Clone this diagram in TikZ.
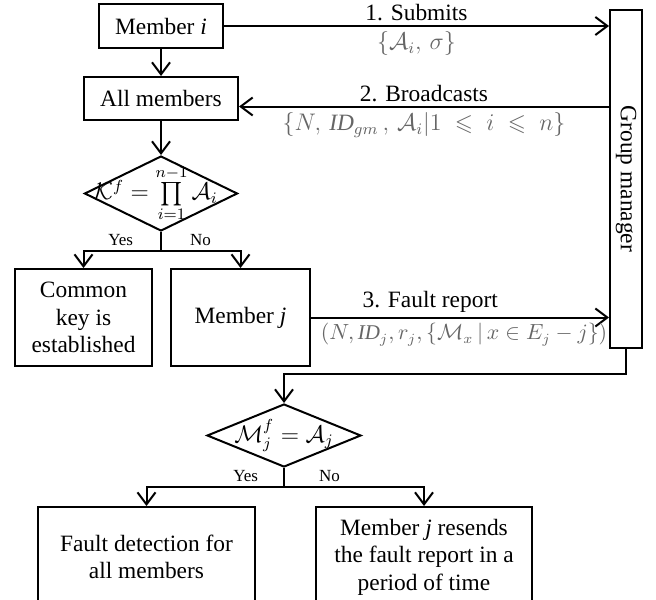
\documentclass[tikz,border=0pt]{standalone}
\usepackage{amsmath,amssymb}
\usepackage{fontspec}
\setmainfont{Liberation Serif}
\usetikzlibrary{arrows.meta,positioning,shapes.geometric}
\newcommand{\inbox}[1]{\makebox[0pt]{#1}}

\begin{document}
\begin{tikzpicture}[x=0.5pt,y=-0.5pt,line width=1pt,
  font=\fontsize{11.7}{13.8}\selectfont, >={Straight Barb[length=6pt,width=9pt]},
  box/.style={draw,align=center,inner sep=2pt},
  test/.style={draw,diamond,inner sep=0pt},
  msg/.style={text=black!60,inner sep=2.5pt},
  yn/.style={font=\fontsize{8.5}{10}\selectfont,inner sep=1pt}]
  \useasboundingbox (0,0) rectangle (656,599);
  % members and the key check
  \node[box,minimum width=62pt,minimum height=22pt] (mi) at (161,26) {Member \textit{i}};
  \node[box,minimum width=77pt,minimum height=21.5pt,below=13.5pt of mi] (am) {All members};
  \node[test,minimum width=76.5pt,minimum height=37.5pt,below=17pt of am] (d1)
    {\inbox{\hspace{-5pt}$\mathcal{K}^f=\prod\limits_{i=1}^{n-1}\mathcal{A}_i$}};
  \node[box,minimum width=68.5pt,minimum height=48.5pt,below=18pt of d1,xshift=-38.75pt] (ck)
    {Common\\key is\\established};
  \node[box,minimum width=69.5pt,minimum height=48.5pt,below=18pt of d1,xshift=39.75pt] (mj)
    {Member \textit{j}};
  \node[box,minimum width=16pt,minimum height=169pt] (gm) at (626,179) {\rotatebox{-90}{Group manager}};
  % fault report check
  \node[test,minimum width=77pt,minimum height=31.5pt,below=18pt of mj,xshift=21.75pt] (d2)
    {\inbox{$\mathcal{M}_j^f=\mathcal{A}_j$}};
  \node[box,minimum width=108.5pt,minimum height=50pt,below=19pt of d2,xshift=-68.75pt] (fd)
    {Fault detection for\\all members};
  \node[box,minimum width=108pt,minimum height=50pt,below=19pt of d2,xshift=70pt] (rs)
    {Member \textit{j} resends\\the fault report in a\\period of time};

  \draw[->] (mi)--(am);
  \draw[->] (am)--(d1);
  \draw (d1.south)--++(0,19) coordinate (br1);
  \draw[->] (br1)-|(ck);
  \draw[->] (br1)-|(mj);
  \node[yn,above left=1pt and 12.5pt of br1] (yes1) {Yes};
  \node[yn,above right=1pt and 13pt of br1] (no1) {No};

  \draw[->] (mi)--(mi-|gm.west) node[midway,above,inner sep=2pt]{1. Submits}
    node[midway,below,msg]{$\{\mathcal{A}_i,\,\sigma\}$};
  \draw[<-] ([yshift=-4pt]am.east)--([yshift=-4pt]am.east-|gm.west)
    node[midway,above,inner sep=2pt]{2. Broadcasts}
    node[midway,below,msg]{$\{N,\,\mathit{ID}_{gm}\,,\,\mathcal{A}_i|1\;\leqslant\;i\;\leqslant\;n\}$};
  \draw[->] (mj)--(mj-|gm.west) node[pos=0.4,above,inner sep=2pt]{3. Fault report}
    node[midway,below,msg,font=\fontsize{10.5}{12}\selectfont,xshift=2pt]
    {$(N,\mathit{ID}_j,r_j,\{\mathcal{M}_x\,|\,x\in E_j-j\})$};

  \draw[->] (gm.south)--++(0,25)-|(d2.north);
  \draw (d2.south)--++(0,19) coordinate (br2);
  \draw[->] (br2)-|(fd);
  \draw[->] (br2)-|(rs);
  \node[yn,above left=1pt and 11.5pt of br2] (yes2) {Yes};
  \node[yn,above right=1pt and 16pt of br2] (no2) {No};
\end{tikzpicture}
\end{document}
